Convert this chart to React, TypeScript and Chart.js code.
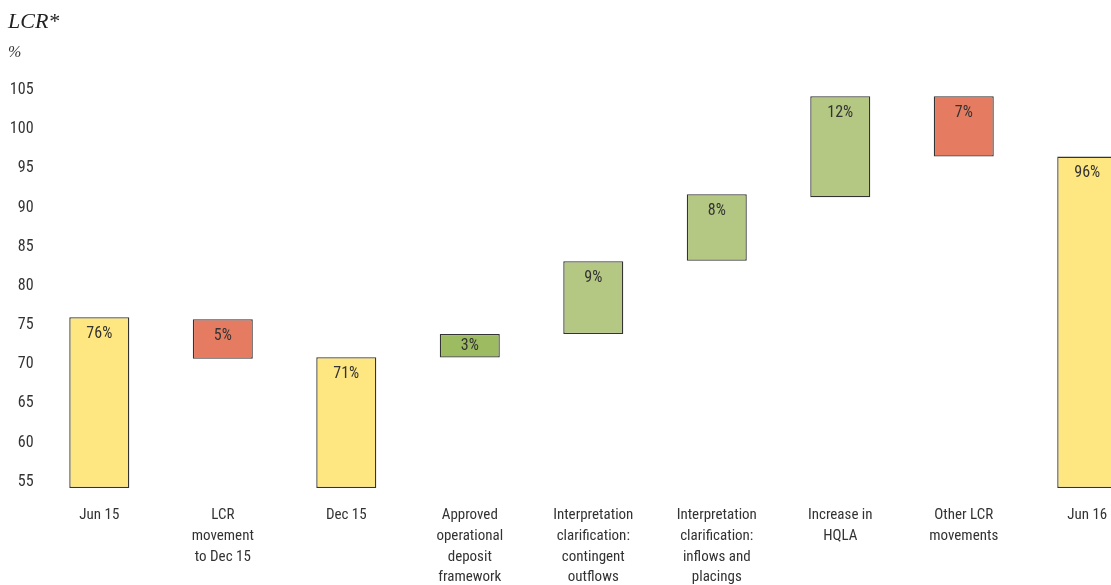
import React, { useEffect, useRef } from "react";
import { Chart, registerables } from "chart.js";

Chart.register(...registerables);

const FONT = "'Roboto Condensed', 'Liberation Sans Narrow', sans-serif";

const categories: string[][] = [
  ["Jun 15"],
  ["LCR", "movement", "to Dec 15"],
  ["Dec 15"],
  ["Approved", "operational", "deposit", "framework"],
  ["Interpretation", "clarification:", "contingent", "outflows"],
  ["Interpretation", "clarification:", "inflows and", "placings"],
  ["Increase in", "HQLA"],
  ["Other LCR", "movements"],
  ["Jun 16"],
];
const barStarts = [54.2, 70.7, 54.2, 70.85, 73.85, 83.2, 91.3, 96.5, 54.2];
const barEnds = [76.0, 75.75, 70.9, 73.85, 83.15, 91.7, 104.2, 104.2, 96.5];
const barLabels = ["76%", "5%", "71%", "3%", "9%", "8%", "12%", "7%", "96%"];
const barKinds = ["total", "down", "total", "upStrong", "up", "up", "up", "down", "total"];
const yTicks = [55, 60, 65, 70, 75, 80, 85, 90, 95, 100, 105];
const yMin = 54.2;
const yMax = 105;

const kindColors: Record<string, string> = {
  total: "#FEE680",
  down: "#E57C62",
  up: "#B4C783",
  upStrong: "#9DBB61",
};

const barLabelPlugin = {
  id: "barLabels",
  afterDatasetsDraw(chart: any) {
    const meta = chart.getDatasetMeta(0);
    const ctx = chart.ctx;
    ctx.save();
    ctx.font = `16px ${FONT}`;
    ctx.fillStyle = "#333333";
    ctx.textAlign = "center";
    ctx.textBaseline = "middle";
    meta.data.forEach((el: any, i: number) => {
      const { x, y, base } = el.getProps(["x", "y", "base"], true);
      const top = Math.min(y, base);
      const h = Math.abs(base - y);
      const ty = top + Math.min(16.5, h / 2);
      ctx.fillText(barLabels[i], x, ty);
    });
    ctx.restore();
  },
};

export default function App() {
  const canvasRef = useRef<HTMLCanvasElement | null>(null);

  useEffect(() => {
    if (!canvasRef.current) return;
    const chart = new Chart(canvasRef.current, {
      type: "bar",
      data: {
        labels: categories,
        datasets: [
          {
            data: barStarts.map((s, i) => [s, barEnds[i]]),
            backgroundColor: barKinds.map((k) => kindColors[k]),
            borderColor: "#333333",
            borderWidth: 1.3,
            borderSkipped: false,
            barPercentage: 0.486,
            categoryPercentage: 1,
          } as any,
        ],
      },
      options: {
        animation: false,
        responsive: true,
        maintainAspectRatio: false,
        layout: { padding: { left: 8, right: 0, top: 0, bottom: 0 } },
        plugins: {
          legend: { display: false },
          tooltip: { enabled: false },
          title: {
            display: true,
            text: "LCR*",
            align: "start",
            color: "#222222",
            font: { family: "'Liberation Serif', 'Times New Roman', serif", size: 22, style: "italic", weight: "normal", lineHeight: 1.2 },
            padding: { top: 9.3, bottom: 0 },
          },
          subtitle: {
            display: true,
            text: "%",
            align: "start",
            color: "#333333",
            font: { family: "'Liberation Serif', serif", size: 16, style: "italic", weight: "normal", lineHeight: 1.2 },
            padding: { top: 7.2, bottom: 27.9 },
          },
        },
        scales: {
          x: {
            grid: { display: false, drawTicks: false },
            border: { display: false },
            ticks: {
              color: "#333333",
              font: { family: FONT, size: 15, lineHeight: 1.38 },
              padding: 17,
              maxRotation: 0,
              autoSkip: false,
            },
            afterFit: (scale: any) => {
              scale.height = 97;
            },
          },
          y: {
            min: yMin,
            max: yMax,
            grid: { display: false, drawTicks: false },
            border: { display: false },
            ticks: {
              color: "#333333",
              font: { family: FONT, size: 16 },
              padding: 4,
            },
            afterBuildTicks: (scale: any) => {
              scale.ticks = yTicks.map((v) => ({ value: v }));
            },
            afterFit: (scale: any) => {
              scale.width = 29.55;
            },
          },
        },
      },
      plugins: [barLabelPlugin],
    });
    return () => chart.destroy();
  }, []);

  return (
    <div style={{ position: "absolute", left: 0, top: 0, width: 1111, height: 585, overflow: "hidden", background: "#ffffff" }}>
      <div style={{ position: "relative", width: 1149, height: 585 }}>
        <canvas ref={canvasRef} />
      </div>
    </div>
  );
}
